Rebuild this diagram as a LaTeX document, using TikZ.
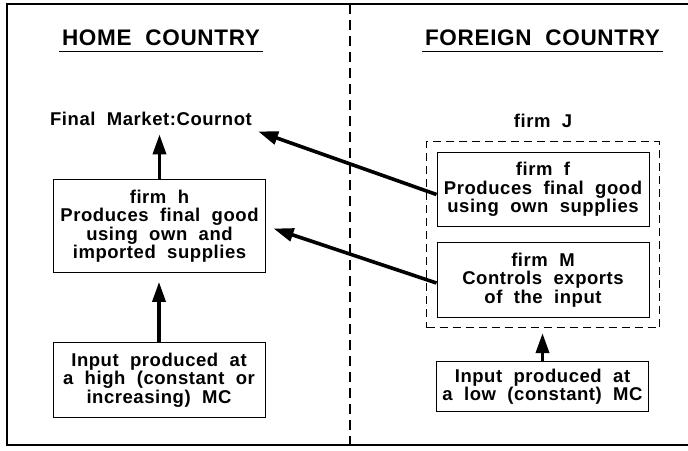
\documentclass[tikz,border=0pt]{standalone}
\usepackage{fontspec}
\setsansfont{Liberation Sans}[BoldFont={Liberation Sans Bold},LetterSpace=3,WordSpace=2]
\usetikzlibrary{positioning,fit,arrows.meta}

\tikzset{
  lbl/.style={font=\sffamily\bfseries\fontsize{18.5}{18.5}\selectfont, inner sep=6pt},
  title/.style={font=\sffamily\bfseries\fontsize{22.5}{24}\selectfont, inner xsep=3pt, inner ysep=6pt},
  box/.style={lbl, draw, line width=1pt, align=center, minimum width=212pt, inner ysep=10pt},
  jbox/.style={draw, line width=1pt, dash pattern=on 8pt off 5pt, inner sep=10pt},
  flow/.style={line width=3.6pt, -{Triangle[length=20pt,width=13pt]}}
}

\begin{document}
\begin{tikzpicture}[x=1pt, y=-1pt]
  \useasboundingbox (0,0) rectangle (688,450);
  % frame and border line
  \draw[line width=1.3pt] (692,4) -- (7,4) -- (7,445) -- (692,445);
  \draw[line width=1.6pt, dash pattern=on 10pt off 6pt] (350,4) -- (350,445);

  % home country
  \node[title, anchor=base] (home) at (161,45) {HOME COUNTRY};
  \draw[line width=1.2pt] (home.south west) -- (home.south east);
  \node[lbl, anchor=base] (fm) at (151,125) {Final Market:Cournot};
  \node[box] (fh) at (159.5,226) {firm h\\Produces final good\\using own and\\imported supplies};
  \node[box] (ih) at (159,380) {Input produced at\\a high (constant or\\increasing) MC};

  % foreign country
  \node[title, anchor=base] (foreign) at (542.5,45) {FOREIGN COUNTRY};
  \draw[line width=1.2pt] (foreign.south west) -- (foreign.south east);
  \node[lbl, anchor=base] (jlbl) at (543,127) {firm J};
  \node[box] (ff) at (543,189.5) {firm f\\Produces final good\\using own supplies};
  \node[box] (fM) at (543,280) {firm M\\Controls exports\\of the input};
  \node[jbox, fit=(ff)(fM)] (fj) {};
  \node[box, inner ysep=7.5pt] (if) at (542.5,386.5) {Input produced at\\a low (constant) MC};

  % flows
  \draw[flow, shorten >=3pt] (fh.north) -- (fh.north |- fm.south);
  \draw[flow, shorten >=9pt] (ih.north) -- (ih.north |- fh.south);
  \draw[flow, shorten >=5pt] (if.north) -- (if.north |- fj.south);
  \draw[flow] ([yshift=-5pt]ff.west) -- (fm.south east);
  \draw[flow, shorten >=8pt] ([yshift=-3pt]fM.west) -- (fh.east);
\end{tikzpicture}
\end{document}
